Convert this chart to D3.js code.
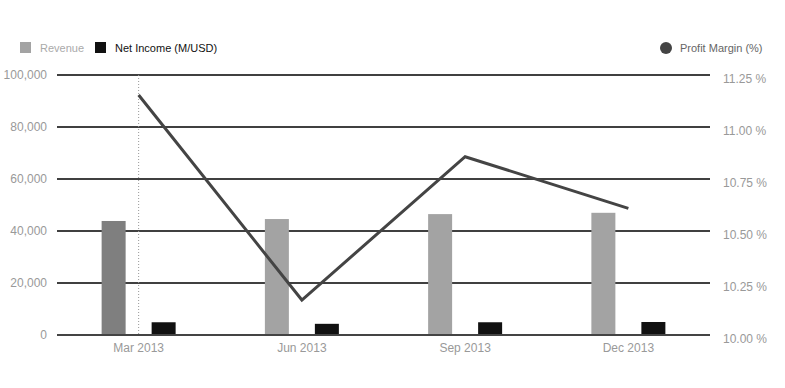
<!DOCTYPE html>
<html>
<head>
<meta charset="utf-8">
<script src="https://cdn.jsdelivr.net/npm/d3@7"></script>
<style>
  body { margin: 0; background: #fff; }
  text { font-family: "Liberation Sans", Arial, sans-serif; }
</style>
</head>
<body>
<div id="chart"></div>
<script>
// chart data
var quarters = ["Mar 2013", "Jun 2013", "Sep 2013", "Dec 2013"];
var revenue = [43850, 44600, 46500, 47000];
var netIncome = [4900, 4300, 4900, 5000];
var profitMargin = [11.154, 10.168, 10.857, 10.609];
var leftTicks = [0, 20000, 40000, 60000, 80000, 100000];
var rightTicks = [10.0, 10.25, 10.5, 10.75, 11.0, 11.25];

var svgWidth = 785;
var svgHeight = 388;

var margin = { top: 75, right: 75, bottom: 53, left: 57 };
var width = svgWidth - margin.left - margin.right;
var height = svgHeight - margin.top - margin.bottom;

var svg = d3.select("#chart")
  .append("svg")
  .attr("width", svgWidth)
  .attr("height", svgHeight);

var chartGroup = svg.append("g")
  .attr("transform", `translate(${margin.left}, ${margin.top})`);

// scales
var xScale = d3.scaleBand()
  .domain(quarters)
  .range([0, width]);

var yLeft = d3.scaleLinear()
  .domain([0, 100000])
  .range([height, 0]);

var yRight = d3.scaleLinear()
  .domain([10, 11.25])
  .range([height, 0]);

// gridlines
chartGroup.selectAll(".grid")
  .data(leftTicks.slice(1))
  .enter()
  .append("line")
  .attr("x1", 0)
  .attr("x2", width)
  .attr("y1", d => yLeft(d))
  .attr("y2", d => yLeft(d))
  .attr("stroke", "#000")
  .attr("stroke-width", 1.5);

// left axis
var leftAxis = d3.axisLeft(yLeft)
  .tickValues(leftTicks)
  .tickSize(0)
  .tickPadding(10)
  .tickFormat(d3.format(","));

var gLeft = chartGroup.append("g").call(leftAxis);
gLeft.select(".domain").remove();
gLeft.selectAll("text")
  .attr("fill", "#999")
  .attr("font-size", 12);

// right axis
var rightAxis = d3.axisRight(yRight)
  .tickValues(rightTicks)
  .tickSize(0)
  .tickPadding(13)
  .tickFormat(d => d3.format(".2f")(d) + " %");

var gRight = chartGroup.append("g")
  .attr("transform", `translate(${width}, 0)`)
  .call(rightAxis);
gRight.select(".domain").remove();
gRight.selectAll("text")
  .attr("fill", "#999")
  .attr("font-size", 12)
  .attr("dy", "0.6em");

// bottom axis
var bottomAxis = d3.axisBottom(xScale)
  .tickSize(0)
  .tickPadding(8);

var gBottom = chartGroup.append("g")
  .attr("transform", `translate(0, ${height})`)
  .call(bottomAxis);
gBottom.select(".domain").remove();
gBottom.selectAll("text")
  .attr("fill", "#999")
  .attr("font-size", 12);

// hover crosshair
var hoverX = xScale(quarters[0]) + xScale.bandwidth() / 2;
chartGroup.append("line")
  .attr("x1", hoverX)
  .attr("x2", hoverX)
  .attr("y1", 0)
  .attr("y2", height)
  .attr("stroke", "#999")
  .attr("stroke-width", 1)
  .attr("stroke-dasharray", "1,2");

// revenue bars
var barW = 24;
chartGroup.selectAll(".rev")
  .data(quarters)
  .enter()
  .append("rect")
  .attr("x", d => xScale(d) + xScale.bandwidth() / 2 - 25 - barW / 2)
  .attr("y", (d, i) => yLeft(revenue[i]))
  .attr("width", barW)
  .attr("height", (d, i) => height - yLeft(revenue[i]))
  .attr("fill", (d, i) => i === 0 ? "#7f7f7f" : "#a3a3a3");

// net income bars
chartGroup.selectAll(".net")
  .data(quarters)
  .enter()
  .append("rect")
  .attr("x", d => xScale(d) + xScale.bandwidth() / 2 + 25 - barW / 2)
  .attr("y", (d, i) => yLeft(netIncome[i]))
  .attr("width", barW)
  .attr("height", (d, i) => height - yLeft(netIncome[i]))
  .attr("fill", "#111");

// zero line
chartGroup.append("line")
  .attr("x1", 0)
  .attr("x2", width)
  .attr("y1", height)
  .attr("y2", height)
  .attr("stroke", "#444")
  .attr("stroke-width", 2);

// profit margin line
var line = d3.line()
  .x((d, i) => xScale(quarters[i]) + xScale.bandwidth() / 2)
  .y(d => yRight(d));

chartGroup.append("path")
  .datum(profitMargin)
  .attr("d", line)
  .attr("fill", "none")
  .attr("stroke", "#444")
  .attr("stroke-width", 3);

// legend
var legend = svg.append("g");
legend.append("rect")
  .attr("x", 20).attr("y", 42).attr("width", 11).attr("height", 11)
  .attr("fill", "#a3a3a3");
legend.append("text")
  .attr("x", 40).attr("y", 52)
  .attr("font-size", 11)
  .attr("fill", "#aaa")
  .text("Revenue");
legend.append("rect")
  .attr("x", 95).attr("y", 42).attr("width", 11).attr("height", 11)
  .attr("fill", "#111");
legend.append("text")
  .attr("x", 115).attr("y", 52)
  .attr("font-size", 11)
  .attr("fill", "#111")
  .text("Net Income (M/USD)");
legend.append("circle")
  .attr("cx", 666).attr("cy", 48).attr("r", 6)
  .attr("fill", "#444");
legend.append("text")
  .attr("x", 680).attr("y", 52)
  .attr("font-size", 11)
  .attr("fill", "#666")
  .text("Profit Margin (%)");
</script>
</body>
</html>
